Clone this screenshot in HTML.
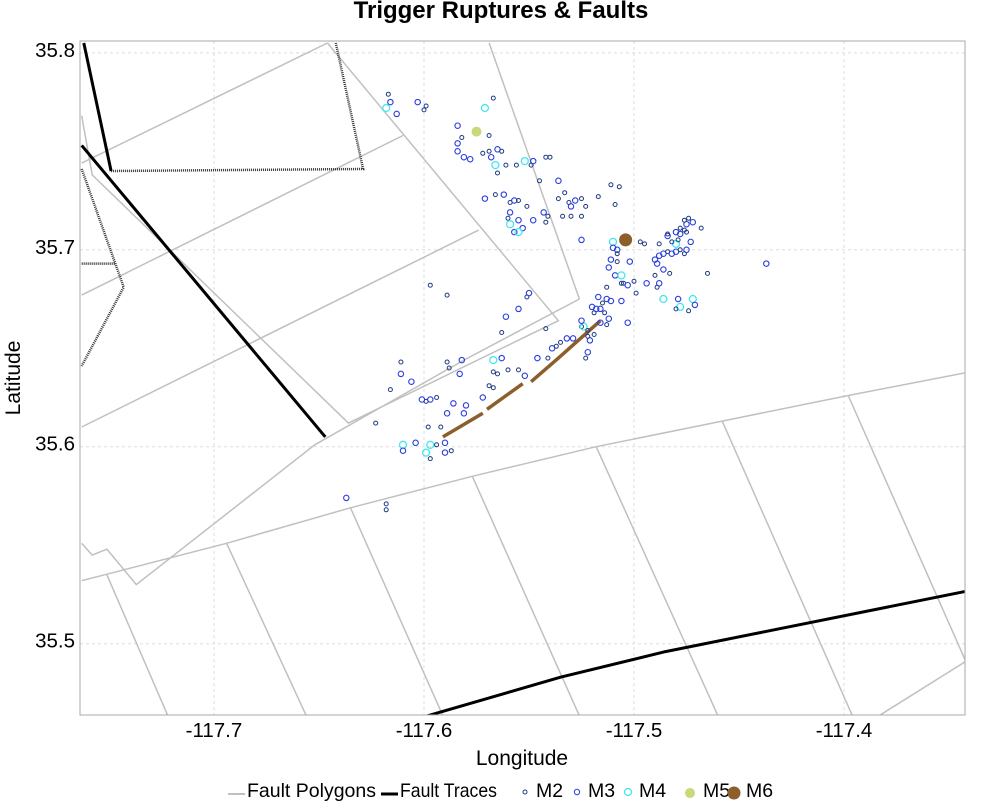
<!DOCTYPE html>
<html><head><meta charset="utf-8"><style>
html,body{margin:0;padding:0;background:#fff;}
svg{display:block;font-family:"Liberation Sans",sans-serif;}
</style></head><body>
<svg id="chart" width="1000" height="809" viewBox="0 0 1000 809" xmlns="http://www.w3.org/2000/svg">
<defs><clipPath id="plotclip"><rect x="80" y="41" width="885" height="674"/></clipPath></defs>
<text x="501" y="18" text-anchor="middle" font-size="24" font-weight="bold" fill="#000">Trigger Ruptures &amp; Faults</text>
<g id="grid"></g>
<g id="faults" clip-path="url(#plotclip)"></g>
<g id="quakes" clip-path="url(#plotclip)"></g>
<rect x="80" y="41" width="885" height="674" fill="none" stroke="#aaa" stroke-width="1"/>
<g id="ticks"></g>
<text x="522" y="765" text-anchor="middle" font-size="21">Longitude</text>
<text x="20" y="378" text-anchor="middle" font-size="21" transform="rotate(-90 20 378)">Latitude</text>
<g font-size="19.5">
 <g><line x1="228" y1="794" x2="245" y2="794" stroke="#c0c0c0" stroke-width="2"/><text x="247" y="797" textLength="129" lengthAdjust="spacingAndGlyphs">Fault Polygons</text></g>
 <g><line x1="381" y1="794" x2="398" y2="794" stroke="#000" stroke-width="3"/><text x="400" y="797" textLength="97" lengthAdjust="spacingAndGlyphs">Fault Traces</text></g>
 <g><circle cx="525" cy="792" r="2" fill="none" stroke="#1f3b80"/><text x="536" y="797">M2</text></g>
 <g><circle cx="577" cy="792" r="2.7" fill="none" stroke="#2a3fe0"/><text x="588" y="797">M3</text></g>
 <g><circle cx="628" cy="792" r="3.5" fill="none" stroke="#40e8f0" stroke-width="1.3"/><text x="639" y="797">M4</text></g>
 <g><circle cx="690" cy="793" r="5" fill="#c9d87a"/><text x="703" y="797">M5</text></g>
 <g><circle cx="734" cy="793" r="6.5" fill="#8b5e2a"/><text x="746" y="797">M6</text></g>
</g>
</svg>
<script>
const xTicks = [-117.7, -117.6, -117.5, -117.4];
const xTickLabels = ["-117.7", "-117.6", "-117.5", "-117.4"];
const yTicks = [35.5, 35.6, 35.7, 35.8];
const yTickLabels = ["35.5", "35.6", "35.7", "35.8"];

const quakeLon = [-117.617,-117.616,-117.618,-117.613,-117.603,-117.600,-117.599,-117.567,-117.571,-117.584,-117.582,-117.569,-117.584,-117.584,-117.581,-117.578,-117.572,-117.569,-117.565,-117.563,-117.568,-117.566,-117.565,-117.561,-117.556,-117.552,-117.549,-117.548,-117.542,-117.540,-117.545,-117.536,-117.533,-117.528,-117.536,-117.531,-117.530,-117.525,-117.523,-117.525,-117.541,-117.543,-117.511,-117.517,-117.509,-117.507,-117.571,-117.566,-117.562,-117.559,-117.557,-117.555,-117.559,-117.560,-117.559,-117.555,-117.553,-117.557,-117.555,-117.548,-117.542,-117.551,-117.534,-117.530,-117.525,-117.510,-117.497,-117.495,
-117.510,-117.508,-117.508,-117.511,-117.508,-117.502,-117.512,-117.509,-117.506,-117.506,-117.505,-117.503,-117.500,-117.499,-117.494,-117.489,-117.488,-117.490,-117.486,-117.483,-117.489,-117.490,-117.488,-117.486,-117.484,-117.482,-117.480,-117.480,-117.478,-117.476,-117.475,-117.473,-117.479,-117.482,-117.488,-117.484,-117.480,-117.484,-117.478,-117.475,-117.476,-117.478,-117.475,-117.472,-117.476,-117.474,-117.468,-117.465,-117.437,-117.486,-117.479,-117.478,-117.472,-117.471,-117.474,-117.480,-117.506,-117.513,-117.517,-117.515,-117.513,-117.511,-117.516,-117.519,-117.520,-117.518,-117.512,-117.503,-117.513,-117.519,-117.525,-117.521,
-117.597,-117.589,-117.551,-117.550,-117.555,-117.561,-117.563,-117.542,-117.535,-117.532,-117.539,-117.529,-117.537,-117.541,-117.546,-117.563,-117.565,-117.567,-117.560,-117.555,-117.552,-117.567,-117.582,-117.589,-117.588,-117.583,-117.611,-117.611,-117.606,-117.601,-117.597,-117.599,-117.598,-117.592,-117.594,-117.616,-117.623,-117.589,-117.586,-117.581,-117.580,-117.572,-117.569,-117.567,-117.610,-117.610,-117.604,-117.597,-117.599,-117.594,-117.597,-117.590,-117.590,-117.587,-117.618,-117.618,-117.637,-117.522,-117.523,-117.524,-117.522,-117.522,-117.525,-117.516,-117.514,
-117.575,-117.504];
const quakeLat = [35.779,35.775,35.772,35.769,35.775,35.771,35.773,35.777,35.772,35.763,35.757,35.758,35.754,35.750,35.747,35.746,35.749,35.750,35.751,35.750,35.747,35.743,35.739,35.743,35.743,35.745,35.743,35.745,35.747,35.747,35.735,35.735,35.729,35.725,35.726,35.724,35.722,35.726,35.722,35.717,35.717,35.719,35.733,35.727,35.723,35.732,35.726,35.728,35.728,35.724,35.725,35.725,35.719,35.716,35.713,35.715,35.711,35.709,35.709,35.715,35.714,35.722,35.717,35.717,35.705,35.704,35.704,35.703,
35.701,35.700,35.698,35.695,35.694,35.694,35.691,35.687,35.687,35.683,35.683,35.682,35.684,35.678,35.683,35.681,35.683,35.687,35.690,35.688,35.693,35.695,35.697,35.698,35.699,35.698,35.703,35.699,35.700,35.698,35.700,35.704,35.705,35.704,35.703,35.707,35.709,35.708,35.708,35.713,35.710,35.711,35.709,35.714,35.715,35.716,35.711,35.688,35.693,35.675,35.675,35.671,35.675,35.672,35.669,35.670,35.674,35.681,35.676,35.673,35.675,35.674,35.670,35.668,35.671,35.670,35.665,35.663,35.662,35.657,35.661,35.654,
35.682,35.677,35.676,35.678,35.670,35.666,35.658,35.660,35.653,35.655,35.650,35.655,35.651,35.645,35.645,35.645,35.637,35.638,35.639,35.639,35.636,35.644,35.644,35.643,35.640,35.637,35.643,35.637,35.633,35.624,35.624,35.623,35.610,35.610,35.625,35.629,35.612,35.617,35.622,35.617,35.621,35.625,35.631,35.630,35.601,35.598,35.602,35.601,35.597,35.601,35.594,35.602,35.597,35.598,35.571,35.568,35.574,35.648,35.645,35.661,35.656,35.659,35.664,35.663,35.668,
35.760,35.705];
const quakeMag = [2,3,4,3,3,2,2,2,4,3,2,2,3,3,3,3,2,2,3,2,3,4,2,2,2,4,2,3,2,2,2,3,2,3,2,2,3,2,2,2,2,3,2,2,2,2,3,2,3,2,3,2,3,2,4,3,3,3,4,3,2,2,2,2,3,4,2,2,
3,3,2,3,2,3,3,3,4,2,2,3,2,2,3,2,3,2,3,2,3,3,3,3,2,3,4,3,2,2,3,3,2,2,2,3,3,2,3,3,2,2,2,3,2,2,2,2,3,4,3,4,4,3,2,2,3,2,3,2,3,3,3,2,3,3,3,3,2,2,2,3,
2,2,2,3,3,3,2,2,2,3,3,3,2,2,3,3,2,2,2,2,3,4,3,2,2,3,2,3,3,3,3,2,2,2,2,2,2,3,3,3,3,3,2,2,4,3,3,4,4,2,2,3,3,2,2,2,3,3,2,4,2,2,3,3,2,
5,6];

const rupture1Lon = [-117.591,-117.572]; const rupture1Lat = [35.605,35.617];
const rupture2Lon = [-117.570,-117.553]; const rupture2Lat = [35.619,35.632];
const rupture3Lon = [-117.549,-117.536,-117.516]; const rupture3Lat = [35.633,35.645,35.664];

const polyLines = [
 [[-117.763,35.532],[-117.694,35.551],[-117.635,35.569],[-117.577,35.585],[-117.518,35.600],[-117.458,35.613],[-117.398,35.626],[-117.340,35.638]],
 [[-117.751,35.535],[-117.721,35.461]],
 [[-117.694,35.551],[-117.655,35.461]],
 [[-117.635,35.569],[-117.590,35.461]],
 [[-117.577,35.585],[-117.525,35.461]],
 [[-117.518,35.600],[-117.459,35.461]],
 [[-117.458,35.613],[-117.395,35.461]],
 [[-117.398,35.626],[-117.342,35.491],[-117.387,35.461]],
 [[-117.763,35.551],[-117.758,35.545],[-117.751,35.548],[-117.737,35.530],[-117.652,35.601],[-117.581,35.644],[-117.526,35.675]],
 [[-117.763,35.768],[-117.758,35.738],[-117.636,35.612],[-117.536,35.664],[-117.646,35.805]],
 [[-117.763,35.744],[-117.646,35.805]],
 [[-117.763,35.677],[-117.610,35.758]],
 [[-117.763,35.610],[-117.574,35.710]],
 [[-117.569,35.805],[-117.526,35.675]]
];
const traceLines = [
 [[-117.762,35.805],[-117.749,35.740]],
 [[-117.763,35.753],[-117.647,35.605]],
 [[-117.606,35.461],[-117.535,35.483],[-117.485,35.496],[-117.340,35.527]]
];
const dottedTraces = [
 [[-117.749,35.740],[-117.629,35.741],[-117.642,35.805]],
 [[-117.763,35.741],[-117.747,35.693],[-117.743,35.681],[-117.763,35.641]],
 [[-117.763,35.693],[-117.747,35.693]]
];

const LON0=-117.7638, LON1=-117.3424, LAT0=35.4638, LAT1=35.806;
const PX0=80, PX1=965, PY0=41, PY1=715;
function xScale(lon){return PX0+(lon-LON0)/(LON1-LON0)*(PX1-PX0);}
function yScale(lat){return PY0+(LAT1-lat)/(LAT1-LAT0)*(PY1-PY0);}
const NS="http://www.w3.org/2000/svg";
function mk(tag,parent){const e=document.createElementNS(NS,tag);parent.appendChild(e);return e;}

const grid=document.getElementById('grid');
const ticks=document.getElementById('ticks');
xTicks.forEach((v,i)=>{
 const l=mk('line',grid);
 
 
 l.setAttribute('x1',xScale(v));l.setAttribute('x2',xScale(v));l.setAttribute('y1',PY0);l.setAttribute('y2',PY1);
 l.setAttribute('stroke','#ddd');l.setAttribute('stroke-dasharray','3,3');
 const t=mk('text',ticks);
 
 
 t.setAttribute('x',xScale(v));t.setAttribute('y',PY1+22);t.setAttribute('text-anchor','middle');t.setAttribute('font-size','20.5');
 t.textContent=xTickLabels[i];
});
yTicks.forEach((v,i)=>{
 const l=mk('line',grid);
 
 
 l.setAttribute('x1',PX0);l.setAttribute('x2',PX1);l.setAttribute('y1',yScale(v));l.setAttribute('y2',yScale(v));
 l.setAttribute('stroke','#ddd');l.setAttribute('stroke-dasharray','3,3');
 const t=mk('text',ticks);
 
 
 t.setAttribute('x',PX0-5);t.setAttribute('y',yScale(v)+4);t.setAttribute('text-anchor','end');t.setAttribute('font-size','20.5');
 t.textContent=yTickLabels[i];
});

const faults=document.getElementById('faults');
function pts(line){return line.map(p=>xScale(p[0]).toFixed(1)+','+yScale(p[1]).toFixed(1)).join(' ');}
polyLines.forEach(line=>{
 const p=mk('polyline',faults);
 
 
 p.setAttribute('points',pts(line));p.setAttribute('fill','none');p.setAttribute('stroke','#c0c0c0');p.setAttribute('stroke-width','1.5');
});
dottedTraces.forEach(line=>{
 const p=mk('polyline',faults);
 
 
 p.setAttribute('points',pts(line));p.setAttribute('fill','none');p.setAttribute('stroke','#333');p.setAttribute('stroke-width','2.5');p.setAttribute('stroke-dasharray','1,1');
});
traceLines.forEach(line=>{
 const p=mk('polyline',faults);
 
 
 p.setAttribute('points',pts(line));p.setAttribute('fill','none');p.setAttribute('stroke','#000');p.setAttribute('stroke-width','3');
});
[[rupture1Lon,rupture1Lat],[rupture2Lon,rupture2Lat],[rupture3Lon,rupture3Lat]].forEach(r=>{
 const p=mk('polyline',faults);
 
 
 p.setAttribute('points',pts(r[0].map((lo,i)=>[lo,r[1][i]])));p.setAttribute('fill','none');p.setAttribute('stroke','#8b5e2a');p.setAttribute('stroke-width','3.5');
});

const quakes=document.getElementById('quakes');
const style={2:{r:2,s:'#1f3b80',f:'none',w:1},3:{r:2.7,s:'#2a3fe0',f:'none',w:1.1},4:{r:3.5,s:'#40e8f0',f:'none',w:1.3},5:{r:5,s:'none',f:'#c9d87a',w:0},6:{r:6.5,s:'none',f:'#8b5e2a',w:0}};
quakeLon.forEach((lo,i)=>{
 const m=quakeMag[i], st=style[m];
 const c=mk('circle',quakes);
 
 
 c.setAttribute('cx',xScale(lo).toFixed(1));c.setAttribute('cy',yScale(quakeLat[i]).toFixed(1));c.setAttribute('r',st.r);
 c.setAttribute('fill',st.f);c.setAttribute('stroke',st.s);c.setAttribute('stroke-width',st.w);
});
</script>
</body></html>
